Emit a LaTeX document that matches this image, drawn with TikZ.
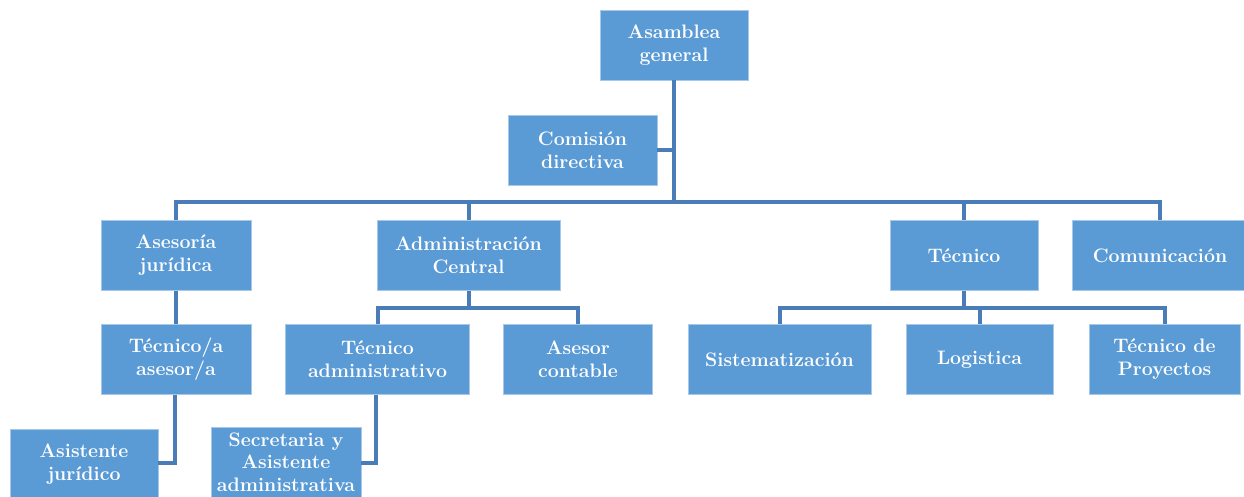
\documentclass[tikz,border=0pt]{standalone}
\usepackage{fontspec}
\definecolor{boxfill}{HTML}{5B9BD5}
\definecolor{boxedge}{HTML}{A8C8EA}
\definecolor{linecol}{HTML}{4A7DB7}
\begin{document}
\begin{tikzpicture}[x=1pt,y=-1pt,
  box/.style={fill=boxfill,draw=boxedge,line width=0.8pt,text=white,align=center,
    inner sep=0pt,minimum height=70,
    font=\fontsize{19.5}{23}\selectfont\bfseries},
  conn/.style={draw=linecol,line width=4pt,line join=miter}]
\useasboundingbox (0,0) rectangle (1244,497);
\clip (0,0) rectangle (1244,497);
% level 0/1
\node[box,minimum width=148] (ag) at (674,45) {Asamblea\\general};
\node[box,minimum width=149] (cd) at (582.5,150) {Comisión\\directiva};
% level 2
\node[box,minimum width=150] (aj) at (176,255.5) {Asesoría\\jurídica};
\node[box,minimum width=183] (ac) at (468.5,255.5) {Administración\\Central};
\node[box,minimum width=148] (te) at (964,255.5) {Técnico};
\node[box,minimum width=176] (co) at (1160,255.5) {Comunicación};
% level 3
\node[box,minimum width=150] (ta) at (176,359.5) {Técnico/a\\asesor/a};
\node[box,minimum width=184] (tad) at (377.5,359.5) {Técnico\\administrativo};
\node[box,minimum width=149] (as) at (578,359.5) {Asesor\\contable};
\node[box,minimum width=183] (si) at (779.5,359.5) {Sistematización};
\node[box,minimum width=147] (lo) at (979.5,359.5) {Logistica};
\node[box,minimum width=151] (tp) at (1164.5,359.5) {Técnico de\\Proyectos};
% level 4
\node[box,minimum width=148] (asj) at (84,464.5) {Asistente\\jurídico};
\node[box,minimum width=150,font=\fontsize{19.5}{22.5}\selectfont\bfseries] (sec) at (286,462) {Secretaria y\\Asistente\\administrativa};
% connectors
\coordinate (bus) at (674,202);
\draw[conn] (ag.south) -- (bus);
\draw[conn] (cd.east) -- (cd.east -| bus);
\draw[conn] (aj.north) |- (bus) -| (co.north);
\draw[conn] (ac.north) -- (ac.north |- bus);
\draw[conn] (te.north) -- (te.north |- bus);
\coordinate (sb1) at (468,308);
\draw[conn] (ac.south) -- (ac.south |- sb1);
\draw[conn] (tad.north) |- (sb1) -| (as.north);
\coordinate (sb2) at (964,308);
\draw[conn] (te.south) -- (te.south |- sb2);
\draw[conn] (si.north) |- (sb2) -| (tp.north);
\draw[conn] (lo.north) -- (lo.north |- sb2);
\draw[conn] (aj.south) -- (ta.north);
\coordinate (k1) at (175,463);
\coordinate (k2) at (376,463);
\draw[conn] (ta.south -| k1) -- (k1) -- (k1 -| asj.east);
\draw[conn] (tad.south -| k2) -- (k2) -- (k2 -| sec.east);
\end{tikzpicture}
\end{document}
